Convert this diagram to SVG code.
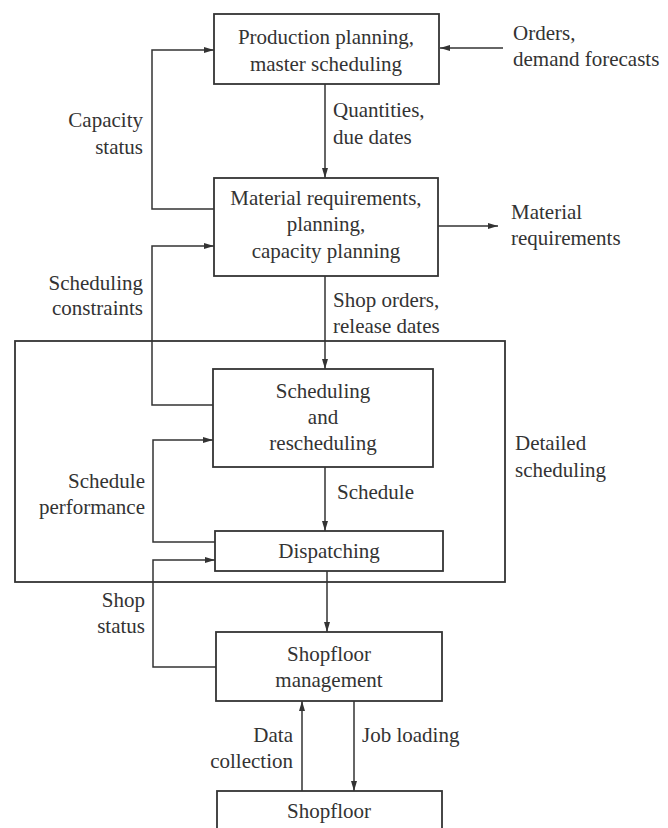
<svg xmlns="http://www.w3.org/2000/svg" width="668" height="828" viewBox="0 0 668 828" font-family="'Liberation Serif', 'Times New Roman', serif">
<defs>
<marker id="ah" viewBox="0 0 10 6" refX="10" refY="3" markerWidth="10" markerHeight="6" markerUnits="userSpaceOnUse" orient="auto">
<path d="M0,0 L10,3 L0,6 Z" fill="#333"/>
</marker>
</defs>
<style>
.box{fill:#fff;stroke:#333;stroke-width:1.8}
.frame{fill:none;stroke:#333;stroke-width:1.8}
.c{fill:none;stroke:#333;stroke-width:1.5}
.a{marker-end:url(#ah)}
text{font-family:'Liberation Serif','Times New Roman',serif;font-size:21px;fill:#333}
.m{text-anchor:middle}
.r{text-anchor:end}
</style>
<rect width="668" height="828" fill="#fff"/>
<g id="detailed-scheduling">
<rect class="frame" x="15" y="341" width="490" height="241"/>
<text x="515" y="450">Detailed</text>
<text x="515" y="477">scheduling</text>
</g>
<g id="connectors">
<path class="c a" d="M503,48 H440"/>
<path class="c a" d="M215,209 H152 V50 H214"/>
<path class="c a" d="M325,84 V178"/>
<path class="c a" d="M438,226 H498"/>
<path class="c a" d="M213,405 H152 V246 H214"/>
<path class="c a" d="M325,276 V369"/>
<path class="c a" d="M215,542 H153 V440 H213"/>
<path class="c a" d="M325,467 V531"/>
<path class="c a" d="M216,667 H153 V560 H215"/>
<path class="c a" d="M327,571 V632"/>
<path class="c a" d="M302,791 V701"/>
<path class="c a" d="M354,701 V791"/>
</g>
<g id="labels">
<text x="513" y="40">Orders,</text>
<text x="513" y="66">demand forecasts</text>
<text class="r" x="143" y="127">Capacity</text>
<text class="r" x="143" y="154">status</text>
<text x="333" y="117">Quantities,</text>
<text x="333" y="144">due dates</text>
<text x="511" y="219">Material</text>
<text x="511" y="245">requirements</text>
<text class="r" x="143" y="290">Scheduling</text>
<text class="r" x="143" y="315">constraints</text>
<text x="333" y="307">Shop orders,</text>
<text x="333" y="333">release dates</text>
<text class="r" x="145" y="488">Schedule</text>
<text class="r" x="145" y="514">performance</text>
<text x="337" y="499">Schedule</text>
<text class="r" x="145" y="607">Shop</text>
<text class="r" x="145" y="633">status</text>
<text class="r" x="293" y="742">Data</text>
<text class="r" x="293" y="768">collection</text>
<text x="362" y="742">Job loading</text>
</g>
<g id="production-planning">
<rect class="box" x="214" y="14" width="225" height="70"/>
<text class="m" x="326" y="44">Production planning,</text>
<text class="m" x="326" y="71">master scheduling</text>
</g>
<g id="material-requirements">
<rect class="box" x="214" y="178" width="224" height="98"/>
<text class="m" x="326" y="205">Material requirements,</text>
<text class="m" x="326" y="231">planning,</text>
<text class="m" x="326" y="258">capacity planning</text>
</g>
<g id="scheduling">
<rect class="box" x="213" y="369" width="220" height="98"/>
<text class="m" x="323" y="398">Scheduling</text>
<text class="m" x="323" y="424">and</text>
<text class="m" x="323" y="450">rescheduling</text>
</g>
<g id="dispatching">
<rect class="box" x="215" y="531" width="228" height="40"/>
<text class="m" x="329" y="558">Dispatching</text>
</g>
<g id="shopfloor-management">
<rect class="box" x="216" y="632" width="226" height="69"/>
<text class="m" x="329" y="661">Shopfloor</text>
<text class="m" x="329" y="687">management</text>
</g>
<g id="shopfloor">
<rect class="box" x="217" y="791" width="225" height="50"/>
<text class="m" x="329" y="818">Shopfloor</text>
</g>
</svg>
